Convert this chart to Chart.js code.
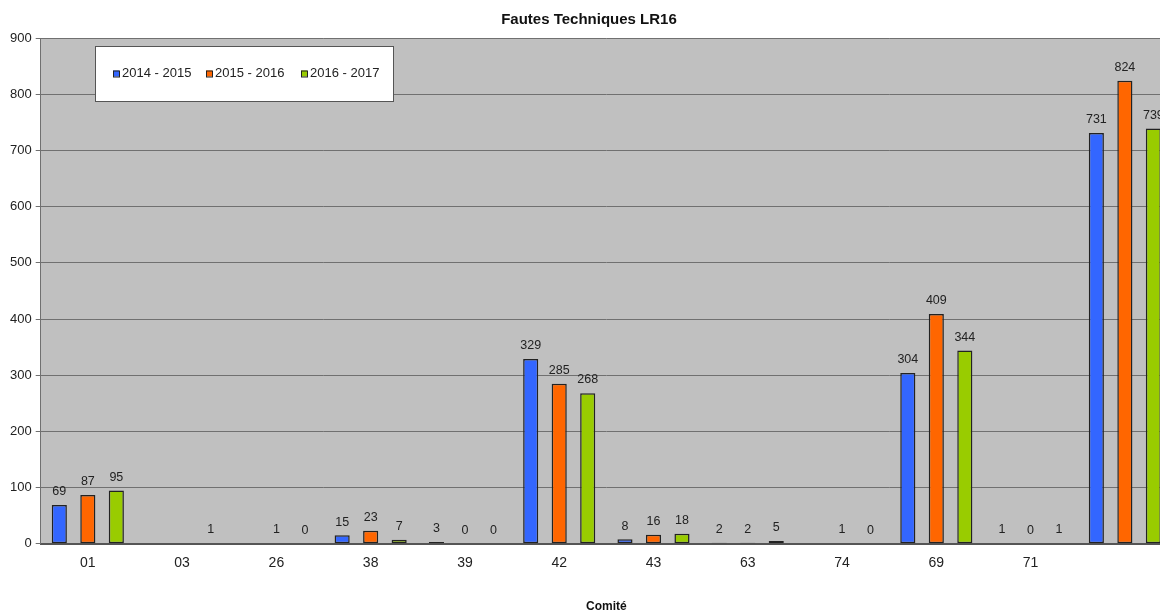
<!DOCTYPE html>
<html>
<head>
<meta charset="utf-8">
<script src="https://cdn.jsdelivr.net/npm/chart.js@4.4.0/dist/chart.umd.min.js"></script>
<style>
  html, body { margin: 0; padding: 0; background: #fff; overflow: hidden; }
  #wrap { width: 1176px; height: 614px; }
</style>
</head>
<body>
<div id="wrap"><canvas id="chart" width="1176" height="614"></canvas></div>
<script>
const comites = ['01', '03', '26', '38', '39', '42', '43', '63', '74', '69', '71', ''];
const seasons = ['2014 - 2015', '2015 - 2016', '2016 - 2017'];
const s2014 = [69, null, null, 15, 3, 329, 8, 2, null, 304, 1, 731];
const s2015 = [87, null, 1, 23, 0, 285, 16, 2, 1, 409, 0, 824];
const s2016 = [95, 1, 0, 7, 0, 268, 18, 5, 0, 344, 1, 739];
const colors = ['#3366ff', '#ff6600', '#99cc00'];
const yTicks = [0, 100, 200, 300, 400, 500, 600, 700, 800, 900];

const FONT = 'Liberation Sans, Arial, sans-serif';

const plotBg = {
  id: 'plotBg',
  beforeDraw(chart) {
    const { ctx, chartArea: a } = chart;
    ctx.save();
    ctx.fillStyle = '#c0c0c0';
    ctx.fillRect(a.left, a.top, a.right - a.left, a.bottom - a.top);
    ctx.restore();
  }
};

const valueLabels = {
  id: 'valueLabels',
  afterDatasetsDraw(chart) {
    const { ctx } = chart;
    ctx.save();
    ctx.font = '12.5px ' + FONT;
    ctx.fillStyle = '#222';
    ctx.textAlign = 'center';
    ctx.textBaseline = 'bottom';
    chart.data.datasets.forEach((ds, i) => {
      chart.getDatasetMeta(i).data.forEach((bar, j) => {
        const v = ds.data[j];
        if (v === null || v === undefined) return;
        ctx.fillText(String(v), bar.x, bar.y - 7);
      });
    });
    ctx.restore();
  }
};

const boxLegend = {
  id: 'boxLegend',
  afterDraw(chart) {
    const { ctx } = chart;
    const x = 95, y = 46, w = 298, h = 55;
    ctx.save();
    ctx.fillStyle = '#fff';
    ctx.fillRect(x, y, w, h);
    ctx.strokeStyle = '#555';
    ctx.lineWidth = 1;
    ctx.strokeRect(x + 0.5, y + 0.5, w, h);
    ctx.font = '13px ' + FONT;
    ctx.textBaseline = 'middle';
    ctx.textAlign = 'left';
    const starts = [113, 206, 301];
    chart.data.datasets.forEach((ds, i) => {
      const sx = starts[i], sy = y + h / 2;
      ctx.fillStyle = ds.backgroundColor;
      ctx.fillRect(sx, sy - 3, 6, 6);
      ctx.strokeStyle = '#222';
      ctx.strokeRect(sx + 0.5, sy - 3 + 0.5, 6, 6);
      ctx.fillStyle = '#222';
      ctx.fillText(ds.label, sx + 9, sy);
    });
    ctx.restore();
  }
};

new Chart(document.getElementById('chart'), {
  type: 'bar',
  data: {
    labels: comites,
    datasets: [s2014, s2015, s2016].map((d, i) => ({
      label: seasons[i],
      data: d,
      backgroundColor: colors[i],
      borderColor: '#222',
      borderWidth: 1.5,
      borderSkipped: false,
      categoryPercentage: 0.907,
      barPercentage: 0.53
    }))
  },
  options: {
    responsive: false,
    animation: false,
    layout: { padding: { left: 6, right: 4, top: 0, bottom: 0 } },
    plugins: {
      legend: { display: false },
      tooltip: { enabled: false },
      title: {
        display: true,
        text: 'Fautes Techniques LR16',
        color: '#111',
        font: { family: FONT, size: 15, weight: 'bold' },
        padding: { top: 11, bottom: 9 }
      }
    },
    scales: {
      x: {
        grid: { display: false },
        border: { color: '#555', width: 2 },
        ticks: { color: '#222', font: { family: FONT, size: 14 }, padding: 3, maxRotation: 0, autoSkip: false },
        title: {
          display: true,
          text: 'Comité',
          color: '#111',
          font: { family: FONT, size: 12, weight: 'bold' },
          padding: { top: 25, bottom: 0 }
        }
      },
      y: {
        min: 0,
        max: 900,
        afterBuildTicks(axis) { axis.ticks = yTicks.map(v => ({ value: v })); },
        grid: { color: '#707070', tickLength: 5, tickColor: '#707070' },
        border: { color: '#707070' },
        ticks: { color: '#222', font: { family: FONT, size: 13 }, padding: 4 }
      }
    }
  },
  plugins: [plotBg, valueLabels, boxLegend]
});
</script>
</body>
</html>
